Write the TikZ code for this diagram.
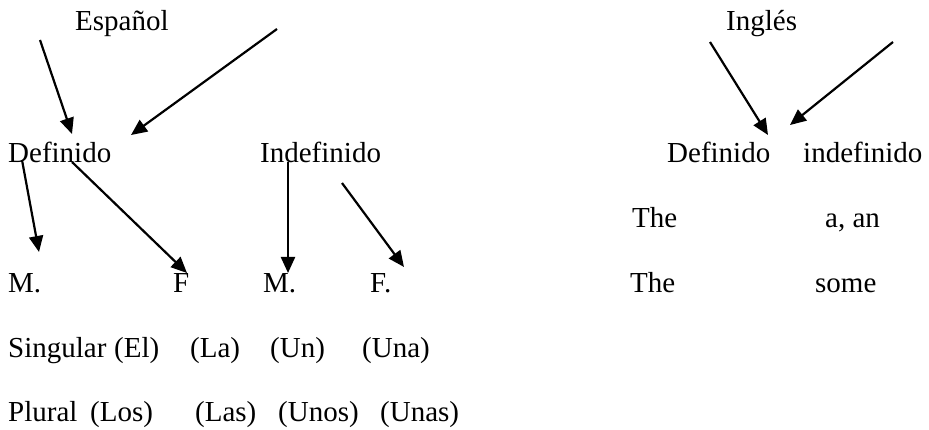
\documentclass[tikz,border=0pt]{standalone}
\usepackage{fontspec}
\setmainfont{Liberation Serif}
\usetikzlibrary{arrows.meta}
\begin{document}
\begin{tikzpicture}[x=1pt,y=-1pt,
  lbl/.style={anchor=base west,inner sep=0pt,font=\fontsize{29}{34}\selectfont},
  arr/.style={line width=2.2pt,-{Triangle[length=16pt,width=14pt]}}]
\useasboundingbox (0,0) rectangle (929,430);
% Spanish side
\node[lbl] (esp) at (75,31) {Español};
\node[lbl] (def) at (8,163) {Definido};
\node[lbl] (indef) at (260,163) {Indefinido};
\node[lbl] (m1) at (8,293) {M.};
\node[lbl] (f1) at (173,293) {F};
\node[lbl] (m2) at (263,293) {M.};
\node[lbl] (f2) at (370,293) {F.};
\node[lbl] (sing) at (8,357) {Singular};
\node[lbl] (el) at (114,357) {(El)};
\node[lbl] (la) at (190,357) {(La)};
\node[lbl] (un) at (270,357) {(Un)};
\node[lbl] (una) at (362,357) {(Una)};
\node[lbl] (plur) at (8,421) {Plural};
\node[lbl] (los) at (90,421) {(Los)};
\node[lbl] (las) at (195,421) {(Las)};
\node[lbl] (unos) at (278,421) {(Unos)};
\node[lbl] (unas) at (380,421) {(Unas)};
% English side
\node[lbl] (ing) at (726,31) {Inglés};
\node[lbl] (edef) at (667,163) {Definido};
\node[lbl] (eindef) at (803,163) {indefinido};
\node[lbl] (the1) at (632,228) {The};
\node[lbl] (aan) at (825,228) {a, an};
\node[lbl] (the2) at (630,293) {The};
\node[lbl] (some) at (815,293) {some};
% arrow end points
\coordinate (a1s) at (40,40);   \coordinate (a1e) at (72,134);
\coordinate (a2s) at (277,29);  \coordinate (a2e) at (131,135);
\coordinate (a3s) at (22,160);  \coordinate (a3e) at (39,252);
\coordinate (a4s) at (72,162);  \coordinate (a4e) at (187,273);
\coordinate (a5s) at (288,162); \coordinate (a5e) at (288,273);
\coordinate (a6s) at (342,183); \coordinate (a6e) at (404,267);
\coordinate (a7s) at (710,42);  \coordinate (a7e) at (768,135);
\coordinate (a8s) at (893,42);  \coordinate (a8e) at (790,125);
\draw[arr] (a1s) -- (a1e);
\draw[arr] (a2s) -- (a2e);
\draw[arr] (a3s) -- (a3e);
\draw[arr] (a4s) -- (a4e);
\draw[arr] (a5s) -- (a5e);
\draw[arr] (a6s) -- (a6e);
\draw[arr] (a7s) -- (a7e);
\draw[arr] (a8s) -- (a8e);
\end{tikzpicture}
\end{document}
